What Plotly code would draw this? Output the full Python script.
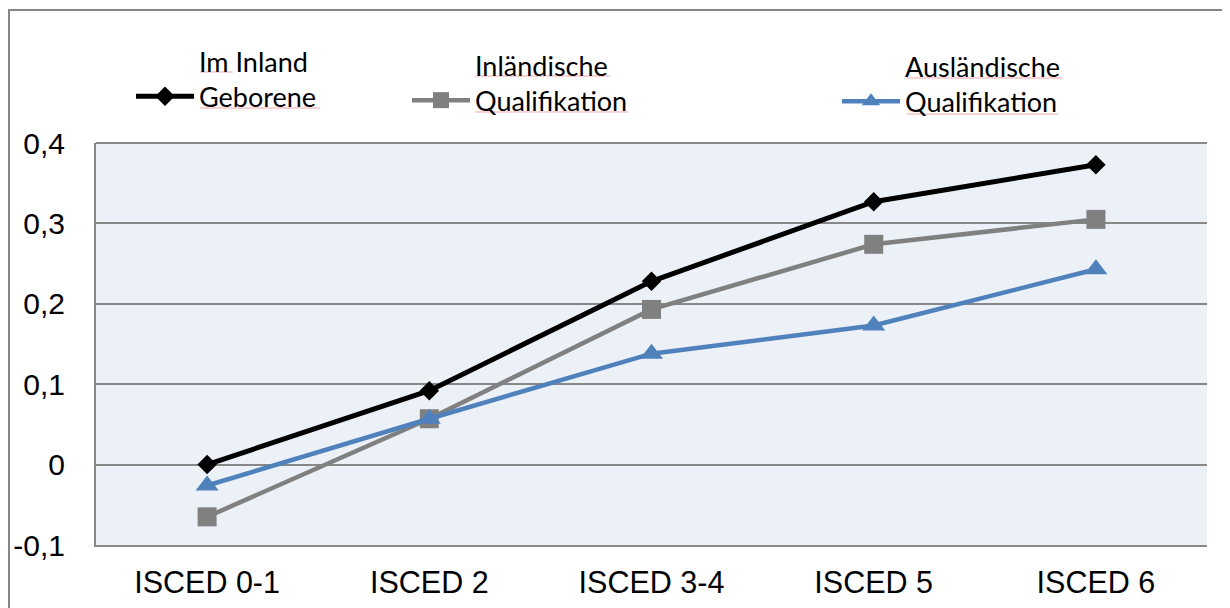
import plotly.graph_objects as go

categories = ["ISCED 0-1", "ISCED 2", "ISCED 3-4", "ISCED 5", "ISCED 6"]
im_inland_geborene = [0.0, 0.092, 0.228, 0.327, 0.373]
inlaendische_qualifikation = [-0.065, 0.057, 0.193, 0.274, 0.305]
auslaendische_qualifikation = [-0.026, 0.057, 0.138, 0.173, 0.243]
y_ticks = [-0.1, 0.0, 0.1, 0.2, 0.3, 0.4]
y_tick_labels = ["-0,1", "0", "0,1", "0,2", "0,3", "0,4"]

# page body has an 8px margin, so the figure is drawn 8px right/down
OFF = 8
W, H = 1230 - OFF, 608 - OFF
L, R, T, B = 88, 23, 135, 63
PW, PH = W - L - R, H - T - B

def px_x(sx):
    # screen pixel -> paper x
    return (sx - OFF - L) / PW

def px_y(sy):
    return (H - B - (sy - OFF)) / PH

def cx(px):
    return px / W

def cy(py):
    return 1 - py / H

fig = go.Figure()
fig.add_trace(go.Scatter(
    x=categories, y=im_inland_geborene, mode="lines+markers",
    name="Im Inland<br>Geborene",
    line=dict(color="#000000", width=5),
    marker=dict(symbol="diamond", size=15, color="#000000"),
    legend="legend",
))
fig.add_trace(go.Scatter(
    x=categories, y=inlaendische_qualifikation, mode="lines+markers",
    name="Inländische<br>Qualifikation",
    line=dict(color="#808080", width=4.5),
    marker=dict(symbol="square", size=19, color="#808080"),
    legend="legend2",
))
fig.add_trace(go.Scatter(
    x=categories, y=auslaendische_qualifikation, mode="lines+markers",
    name="Ausländische<br>Qualifikation",
    line=dict(color="#4F81BD", width=4.5),
    marker=dict(symbol="triangle-up", size=20, color="#4F81BD"),
    legend="legend3",
))

legend_font = dict(family="Lato, 'Open Sans', sans-serif", size=27, color="#000000")
common_legend = dict(font=legend_font, bgcolor="rgba(0,0,0,0)", itemwidth=58,
                     valign="bottom", yanchor="top", xanchor="left",
                     xref="container", yref="container",
                     tracegroupgap=0, borderwidth=0)

# faint spell-check underlines under the legend words (screen pixels)
squiggles = [
    (200, 233, 72), (200, 320, 108),
    (475, 610, 76), (475, 628, 112),
    (907, 1062, 78), (907, 1058, 114),
]
shapes = [
    dict(type="line", xref="paper", yref="paper",
         x0=px_x(0), x1=px_x(1232), y0=px_y(10), y1=px_y(10),
         line=dict(color="#868686", width=2)),
    dict(type="line", xref="paper", yref="paper",
         x0=px_x(9), x1=px_x(9), y0=px_y(10), y1=px_y(612),
         line=dict(color="#868686", width=2)),
    dict(type="line", xref="paper", yref="paper",
         x0=0, x1=1, y0=1, y1=1,
         line=dict(color="#888888", width=2)),
]
for x0, x1, yy in squiggles:
    shapes.append(dict(type="line", xref="paper", yref="paper",
                       x0=px_x(x0), x1=px_x(x1), y0=px_y(yy), y1=px_y(yy),
                       line=dict(color="#F2A7A7", width=1)))

fig.update_layout(
    width=W, height=H,
    margin=dict(l=L, r=R, t=T, b=B, autoexpand=False),
    paper_bgcolor="#FFFFFF",
    plot_bgcolor="#ECF0F7",
    showlegend=True,
    legend=dict(x=cx(123), y=cy(29), **common_legend),
    legend2=dict(x=cx(399), y=cy(33), **common_legend),
    legend3=dict(x=cx(829), y=cy(34), **common_legend),
    xaxis=dict(
        type="category", range=[-0.5, 4.5], automargin=False,
        showgrid=False, showline=True, linecolor="#888888", linewidth=2,
        mirror=False, ticks="", ticklabelstandoff=9,
        tickfont=dict(family="Liberation Sans, Arial, sans-serif", size=30.5, color="#000000"),
    ),
    yaxis=dict(
        range=[-0.1, 0.4], tickvals=y_ticks, ticktext=y_tick_labels, automargin=False,
        showgrid=True, gridcolor="#888888", gridwidth=2,
        zeroline=True, zerolinecolor="#888888", zerolinewidth=2,
        showline=True, linecolor="#888888", linewidth=2,
        ticks="", ticklabelstandoff=23,
        tickfont=dict(family="Liberation Sans, Arial, sans-serif", size=30, color="#000000"),
    ),
    shapes=shapes,
)

fig.write_html("out.html")
